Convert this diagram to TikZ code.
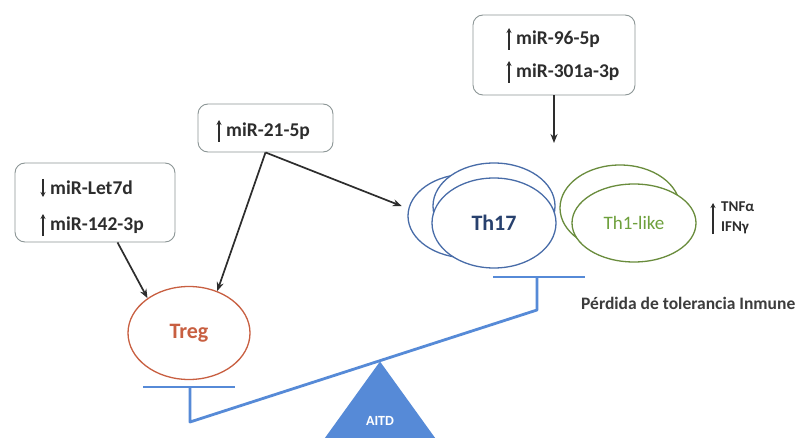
\documentclass[tikz,border=0pt]{standalone}
\usepackage{fontspec}
\setmainfont{Carlito}
\usetikzlibrary{shapes.geometric,arrows.meta,calc}
\definecolor{boxline}{RGB}{140,150,150}
\definecolor{txt}{RGB}{45,45,45}
\definecolor{balblue}{RGB}{86,138,215}
\definecolor{thblue}{RGB}{72,108,168}
\definecolor{thtxt}{RGB}{40,65,110}
\definecolor{thgreen}{RGB}{105,140,60}
\definecolor{thgtxt}{RGB}{110,160,60}
\definecolor{tregred}{RGB}{200,95,65}
\definecolor{graytxt}{RGB}{60,60,60}
\begin{document}
\begin{tikzpicture}[x=1pt,y=-1pt,
  mbox/.style={draw=boxline, line width=0.9pt, rounded corners=10pt, fill=white, inner sep=0pt},
  mtext/.style={font=\bfseries\fontsize{19.5}{21}\selectfont, text=txt, inner sep=0pt, anchor=west},
  conn/.style={draw=txt, line width=1.7pt, -{Stealth[length=9pt,width=7pt]}},
  updn/.style={line width=1.5pt, draw=txt, -{Stealth[length=5pt,width=5pt]}},
  cell/.style={ellipse, inner sep=0pt, line width=1.3pt, fill=white},
  bal/.style={draw=balblue, line width=2.8pt}
]
\clip (0,0) rectangle (802,438);
\fill[white] (0,0) rectangle (802,438);

% boxes
\node[mbox, minimum width=160pt, minimum height=79pt] (lb) at (95,202.5) {};
\node[mtext] (lb1) at (50,188) {miR-Let7d};
\node[mtext] (lb2) at (50,225) {miR-142-3p};
\draw[updn] ($(lb1.west)+(-7,-9)$) -- ++(0,18);
\draw[updn] ($(lb2.west)+(-7,11)$) -- ++(0,-22);

\node[mbox, minimum width=135pt, minimum height=48pt] (mb) at (265.5,128) {};
\node[mtext] (mb1) at (226,131) {miR-21-5p};
\draw[updn] ($(mb1.west)+(-7,11)$) -- ++(0,-22);

\node[mbox, minimum width=162pt, minimum height=80pt] (tb) at (554,55) {};
\node[mtext] (tb1) at (516,39) {miR-96-5p};
\node[mtext] (tb2) at (516,72) {miR-301a-3p};
\draw[updn] ($(tb1.west)+(-7,11)$) -- ++(0,-22);
\draw[updn] ($(tb2.west)+(-7,11)$) -- ++(0,-22);

% Th17 cells
\node[cell, draw=thblue, minimum width=120pt, minimum height=84pt] (e1) at (468,216) {};
\node[cell, draw=thblue, minimum width=122pt, minimum height=86pt] (e2) at (494,206) {};
\node[cell, draw=thblue, minimum width=124pt, minimum height=90pt, text=thtxt,
      font=\bfseries\fontsize{22}{24}\selectfont] (th17) at (494,223) {Th17};

% Th1-like cells
\node[cell, draw=thgreen, minimum width=120pt, minimum height=86pt] (g1) at (620,208) {};
\node[cell, draw=thgreen, minimum width=124pt, minimum height=78pt, text=thgtxt,
      font=\fontsize{19}{21}\selectfont] (th1) at (634,223) {Th1-like};

% cytokines
\node[font=\bfseries\fontsize{15}{17}\selectfont, text=txt, anchor=west, inner sep=0pt] (tnf) at (721,207) {TNFα};
\node[font=\bfseries\fontsize{15}{17}\selectfont, text=txt, anchor=west, inner sep=0pt] (ifn) at (721,228) {IFNγ};
\draw[updn] ($(ifn.west)+(-8,6)$) -- ($(tnf.west)+(-8,-4)$);

% Treg
\node[cell, draw=tregred, minimum width=122pt, minimum height=93pt, text=tregred,
      font=\bfseries\fontsize{22}{24}\selectfont] (treg) at (189,333) {Treg};

% connectors
\coordinate (lbout) at ($(lb.south west)!0.64!(lb.south east)$);
\draw[conn] (lbout) -- (treg.140);
\draw[conn] (mb.south) -- (treg.56);
\draw[conn, shorten >=7pt] (mb.south) -- (e1.173);
\coordinate (tbend) at (554,143);
\draw[conn] (tb.south) -- (tbend);

% balance
\coordinate (rbl) at (493,277);
\coordinate (rbr) at (585,277);
\coordinate (rtop) at (537,277);
\coordinate (rbot) at (537,310);
\coordinate (lbot) at (190,422);
\coordinate (ltop) at (190,387);
\coordinate (lbl) at (143,387);
\coordinate (lbr) at (235,387);
\coordinate (apex) at (380,361.5);
\fill[balblue] (apex) -- (322,442) -- (438,442) -- cycle;
\draw[bal] (rbl) -- (rbr);
\draw[bal, line join=round] (rtop) -- (rbot) -- (lbot) -- (ltop);
\draw[bal] (lbl) -- (lbr);
\node[font=\bfseries\fontsize{14}{16}\selectfont, text=white] (aitd) at (380,421) {AITD};

\node[font=\bfseries\fontsize{17.5}{19}\selectfont, text=graytxt, anchor=west, inner sep=0pt] (perd) at (581,303) {Pérdida de tolerancia Inmune};
\end{tikzpicture}
\end{document}
